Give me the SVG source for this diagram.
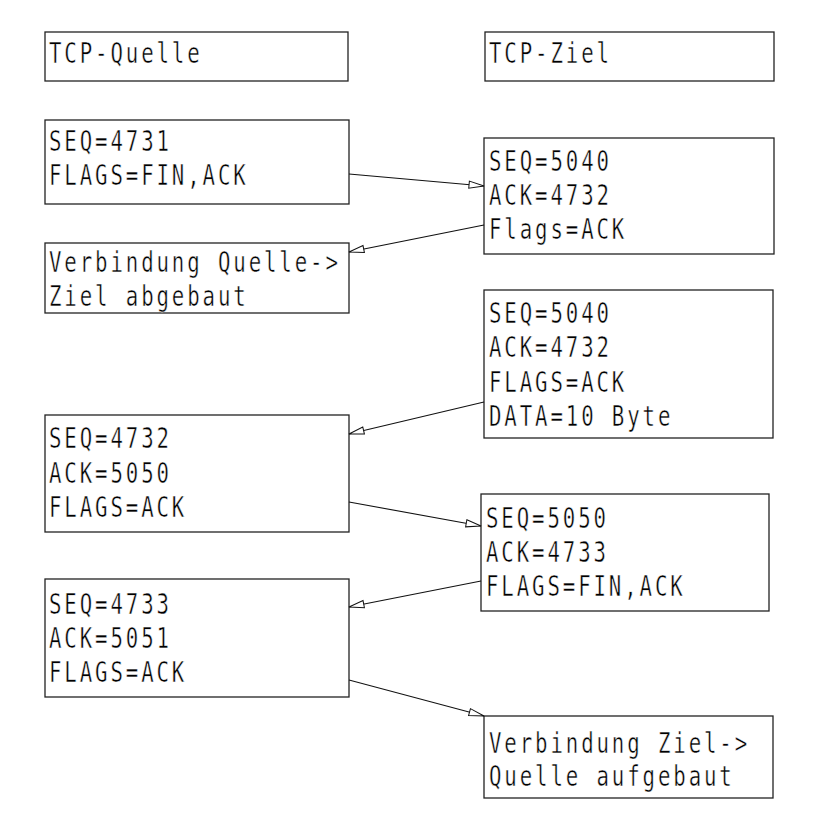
<svg xmlns="http://www.w3.org/2000/svg" width="814" height="819" viewBox="0 0 814 819">
<defs>
<style>
.box{fill:none;stroke:#222;stroke-width:1.3}
.t{font-family:"DejaVu Sans Mono","Liberation Mono",monospace;font-size:28.8px;letter-spacing:4px;fill:#000;stroke:#fff;stroke-width:0.5px}
.c{fill:none;stroke:#111;stroke-width:1.1}
</style>
<marker id="ah" markerUnits="userSpaceOnUse" markerWidth="20" markerHeight="12" viewBox="-17 -6 18 12" refX="0" refY="0" orient="auto">
<path d="M0,0 L-15,-3.6 L-15,3.6 Z" fill="#fff" stroke="#111" stroke-width="1"/>
</marker>
</defs>
<rect width="814" height="819" fill="#fff"/>
<g id="n-tcp-quelle">
<rect class="box" x="45" y="32" width="303" height="49"/>
<text class="t" transform="translate(49 63) scale(0.72 1)">TCP-Quelle</text>
</g>
<g id="n-tcp-ziel">
<rect class="box" x="485" y="32" width="289" height="49"/>
<text class="t" transform="translate(489 63) scale(0.72 1)">TCP-Ziel</text>
</g>
<g id="n-q1">
<rect class="box" x="45" y="120" width="304" height="84"/>
<text class="t" transform="translate(49 151) scale(0.72 1)">SEQ=4731</text>
<text class="t" transform="translate(49 185) scale(0.72 1)">FLAGS=FIN,ACK</text>
</g>
<g id="n-z1">
<rect class="box" x="484" y="138" width="290" height="116"/>
<text class="t" transform="translate(489 171) scale(0.72 1)">SEQ=5040</text>
<text class="t" transform="translate(489 205) scale(0.72 1)">ACK=4732</text>
<text class="t" transform="translate(489 239) scale(0.72 1)">Flags=ACK</text>
</g>
<g id="n-q2">
<rect class="box" x="45" y="243" width="304" height="70"/>
<text class="t" transform="translate(49 272) scale(0.72 1)">Verbindung Quelle-&gt;</text>
<text class="t" transform="translate(49 306) scale(0.72 1)">Ziel abgebaut</text>
</g>
<g id="n-z2">
<rect class="box" x="484" y="290" width="289" height="148"/>
<text class="t" transform="translate(489 323) scale(0.72 1)">SEQ=5040</text>
<text class="t" transform="translate(489 357) scale(0.72 1)">ACK=4732</text>
<text class="t" transform="translate(489 392) scale(0.72 1)">FLAGS=ACK</text>
<text class="t" transform="translate(489 426) scale(0.72 1)">DATA=10 Byte</text>
</g>
<g id="n-q3">
<rect class="box" x="45" y="415" width="304" height="117"/>
<text class="t" transform="translate(49 448) scale(0.72 1)">SEQ=4732</text>
<text class="t" transform="translate(49 483) scale(0.72 1)">ACK=5050</text>
<text class="t" transform="translate(49 517) scale(0.72 1)">FLAGS=ACK</text>
</g>
<g id="n-z3">
<rect class="box" x="481" y="494" width="288" height="117"/>
<text class="t" transform="translate(486 528) scale(0.72 1)">SEQ=5050</text>
<text class="t" transform="translate(486 562) scale(0.72 1)">ACK=4733</text>
<text class="t" transform="translate(486 596) scale(0.72 1)">FLAGS=FIN,ACK</text>
</g>
<g id="n-q4">
<rect class="box" x="45" y="579" width="304" height="118"/>
<text class="t" transform="translate(49 614) scale(0.72 1)">SEQ=4733</text>
<text class="t" transform="translate(49 648) scale(0.72 1)">ACK=5051</text>
<text class="t" transform="translate(49 682) scale(0.72 1)">FLAGS=ACK</text>
</g>
<g id="n-z4">
<rect class="box" x="484" y="716" width="289" height="82"/>
<text class="t" transform="translate(489 753) scale(0.72 1)">Verbindung Ziel-&gt;</text>
<text class="t" transform="translate(489 786) scale(0.72 1)">Quelle aufgebaut</text>
</g>
<g id="connectors">
<line class="c" x1="349" y1="174" x2="484" y2="186" marker-end="url(#ah)"/>
<line class="c" x1="484" y1="225" x2="349" y2="252" marker-end="url(#ah)"/>
<line class="c" x1="484" y1="402" x2="349" y2="434" marker-end="url(#ah)"/>
<line class="c" x1="349" y1="502" x2="481" y2="526" marker-end="url(#ah)"/>
<line class="c" x1="481" y1="581" x2="349" y2="607" marker-end="url(#ah)"/>
<line class="c" x1="349" y1="680" x2="484" y2="716" marker-end="url(#ah)"/>
</g>
</svg>
